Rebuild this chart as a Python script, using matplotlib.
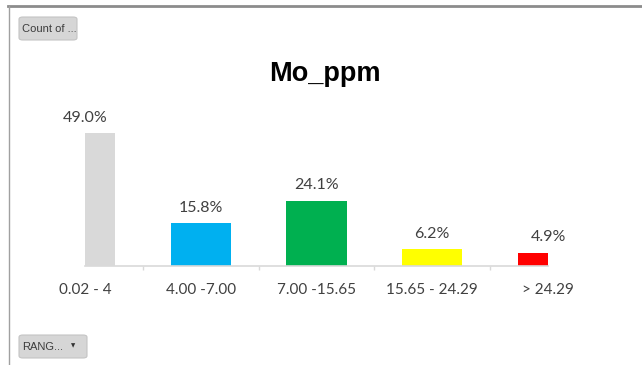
import matplotlib
matplotlib.use("Agg")
import matplotlib.pyplot as plt
from matplotlib.patches import FancyBboxPatch
from matplotlib.lines import Line2D

# Share of samples in each Mo (ppm) range
ranges = ["0.02 - 4", "4.00 -7.00", "7.00 -15.65", "15.65 - 24.29", "> 24.29"]
percent = [49.0, 15.8, 24.1, 6.2, 4.9]
bar_colors = ["#D9D9D9", "#00B0F0", "#00B050", "#FFFF00", "#FF0000"]

W, H = 642, 365
fig = plt.figure(figsize=(W / 100, H / 100), dpi=100)
fig.patch.set_facecolor("white")

def px_x(x):
    return x / W

def px_y(y):
    return 1 - y / H

# Plot area: category centres sit on the left/right edges, so edge bars are clipped
left, right, base = 85, 548, 266
ymax = 60
scale = 133 / 49.0
top = base - ymax * scale
ax = fig.add_axes([px_x(left), px_y(base), (right - left) / W, (base - top) / H])
x = list(range(len(ranges)))
ax.bar(x, percent, width=0.52, color=bar_colors, zorder=2)
ax.set_xlim(0, len(ranges) - 1)
ax.set_ylim(0, ymax)

for xi, v in zip(x, percent):
    ax.annotate(f"{v:.1f}%", (xi, v), xytext=(0, 11), textcoords="offset points",
                ha="center", va="center", fontsize=11.5, color="#404040",
                family="Lato", annotation_clip=False)

for s in ["top", "right", "left"]:
    ax.spines[s].set_visible(False)
ax.spines["bottom"].set_color("#D9D9D9")
ax.spines["bottom"].set_linewidth(1.2)
ax.set_yticks([])
ax.set_xticks(x)
ax.set_xticklabels(ranges, fontsize=11, color="#404040", family="Lato")
ax.tick_params(axis="x", which="major", length=0, pad=12)
ax.set_xticks([0.5, 1.5, 2.5, 3.5], minor=True)
ax.tick_params(axis="x", which="minor", length=3, color="#D9D9D9", width=1)

# Title
fig.text(px_x(325), px_y(74), "Mo_ppm", ha="center", va="center",
         fontsize=19.5, fontweight="bold", family="Liberation Sans", color="black")

# Outer frame lines (top and left)
fig.add_artist(Line2D([px_x(8), 1], [px_y(6), px_y(6)], color="#8C8C8C", lw=2,
                      transform=fig.transFigure))
fig.add_artist(Line2D([px_x(8.5), px_x(8.5)], [px_y(6), 0], color="#A0A0A0", lw=1,
                      transform=fig.transFigure))

# Field buttons
def button(x0, y0, x1, y1, label, arrow=False):
    box = FancyBboxPatch((px_x(x0), px_y(y1)), (x1 - x0) / W, (y1 - y0) / H,
                         boxstyle="round,pad=0,rounding_size=0.006",
                         transform=fig.transFigure, facecolor="#D6D6D6",
                         edgecolor="#C4C4C4", lw=0.8)
    fig.add_artist(box)
    fig.text(px_x(x0 + 3), px_y((y0 + y1) / 2), label, ha="left", va="center",
             fontsize=8, color="#3C3C3C", family="Liberation Sans")
    if arrow:
        fig.text(px_x(x1 - 14), px_y((y0 + y1) / 2 - 1), "\u25BC", ha="center",
                 va="center", fontsize=4, color="#333333", family="DejaVu Sans")

button(19, 17, 77, 40, "Count of ...")
button(19, 335, 87, 358, "RANG...", arrow=True)

fig.savefig("out.png", dpi=100, facecolor="white")
